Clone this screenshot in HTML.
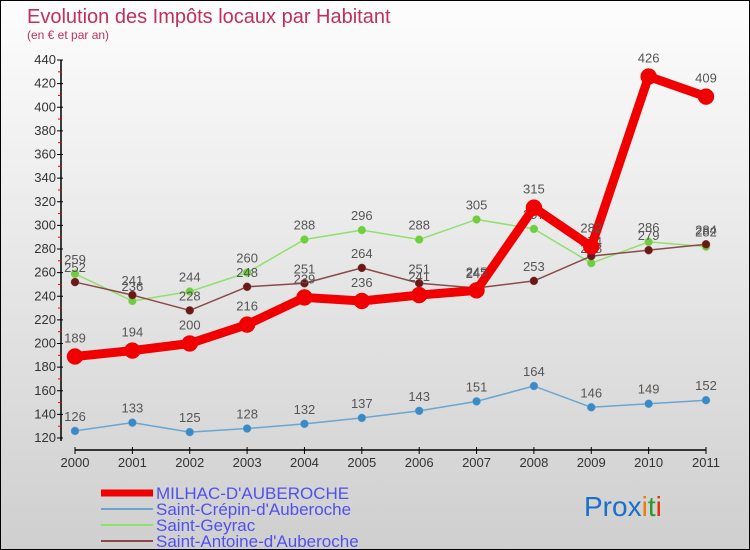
<!DOCTYPE html>
<html><head><meta charset="utf-8"><style>
html,body{margin:0;padding:0}
body{width:750px;height:550px;overflow:hidden;font-family:"Liberation Sans","DejaVu Sans",sans-serif}
#wrap{position:relative;width:748px;height:548px;border:1px solid #000;background:linear-gradient(#fdfdfd,#cfcfcf)}
</style></head><body>
<div id="wrap">
<svg id="chart" width="748" height="548" style="position:absolute;left:0;top:0">
<text x="26" y="22" font-size="20" fill="#c0305a">Evolution des Impôts locaux par Habitant</text>
<text x="26" y="38" font-size="12" fill="#c0305a">(en € et par an)</text>
<g id="axes"></g><g id="series"></g><g id="legend"></g>
<text x="583" y="515" font-size="28"><tspan fill="#1a6fc8">Pro</tspan><tspan fill="#1a6fc8">x</tspan><tspan fill="#f07a00">i</tspan><tspan fill="#2a9a2a">t</tspan><tspan fill="#e03010">i</tspan></text>
</svg>
</div>
<script>
const years=[2000,2001,2002,2003,2004,2005,2006,2007,2008,2009,2010,2011];
const milhac=[189,194,200,216,239,236,241,245,315,282,426,409];
const crepin=[126,133,125,128,132,137,143,151,164,146,149,152];
const geyrac=[259,236,244,260,288,296,288,305,297,268,286,282];
const antoine=[252,241,228,248,251,264,251,247,253,274,279,284];
const yTicks=[120,140,160,180,200,220,240,260,280,300,320,340,360,380,400,420,440];
const seriesNames=["MILHAC-D'AUBEROCHE","Saint-Crépin-d'Auberoche","Saint-Geyrac","Saint-Antoine-d'Auberoche"];

const NS="http://www.w3.org/2000/svg";
function X(i){return 74+i*(705-74)/(years.length-1);}
function Y(v){return 437-(v-120)*(437-59)/(440-120);}
function mk(tag,attrs,parent){const e=document.createElementNS(NS,tag);for(const k in attrs)e.setAttribute(k,attrs[k]);parent.appendChild(e);return e;}
const axes=document.getElementById('axes');
let e=mk('line',{x1:60,y1:59,x2:60,y2:440,stroke:'#000','stroke-width':1.5},axes);


yTicks.forEach((t,i)=>{
 let l=mk('line',{x1:56,y1:Y(t),x2:62,y2:Y(t),stroke:'#000'},axes);
 
 
 if(i<yTicks.length-1){let m=mk('line',{x1:57,y1:Y(t+10),x2:61,y2:Y(t+10),stroke:'#e00'},axes);
 
 }
 let tx=mk('text',{x:55,y:Y(t)+4,'text-anchor':'end','font-size':13,fill:'#333'},axes);tx.textContent=t;
 
 
});
e=mk('line',{x1:74,y1:449,x2:705,y2:449,stroke:'#000','stroke-width':1.5},axes);


years.forEach((yr,i)=>{
 let l=mk('line',{x1:X(i),y1:446,x2:X(i),y2:453,stroke:'#000'},axes);
 
 
 let tx=mk('text',{x:X(i),y:466,'text-anchor':'middle','font-size':13,fill:'#333'},axes);tx.textContent=yr;
 
 
});
const sg=document.getElementById('series');
function draw(data,color,w,r,name,dot){
 const g=mk('g',{},sg);
 
 
 let p=mk('polyline',{points:data.map((v,i)=>X(i)+','+Y(v)).join(' '),fill:'none',stroke:color,'stroke-width':w,'stroke-linejoin':'round'},g);
 
 
 data.forEach((v,i)=>{
  let c=mk('circle',{cx:X(i),cy:Y(v),r:r,fill:dot,stroke:color,'stroke-width':0.5},g);
  
  
  let t=mk('text',{x:X(i),y:Y(v)-(r+6),'text-anchor':'middle','font-size':13,fill:'#555'},g);t.textContent=v;
  
  
 });
}
draw(crepin,'#6aa6d0',1.5,4,'crepin','#3a8ac8');
draw(geyrac,'#90e070',1.5,4,'geyrac','#70cc40');
draw(antoine,'#8b4a4a',1.5,4,'antoine','#6a1818');
draw(milhac,'#f00000',9,8,'milhac','#f00000');
const lg=document.getElementById('legend');
const lcol=['#f00000','#6aa6d0','#90e070','#8b4a4a'],lw=[7,2,2,2];
seriesNames.forEach((n,i)=>{
 const y=492+i*16;
 let l=mk('line',{x1:100,y1:y,x2:152,y2:y,stroke:lcol[i],'stroke-width':lw[i]},lg);
 
 
 let t=mk('text',{x:155,y:y+6,'font-size':17,fill:'#5050f0'},lg);t.textContent=n;
 
 
});
</script>
</body></html>
